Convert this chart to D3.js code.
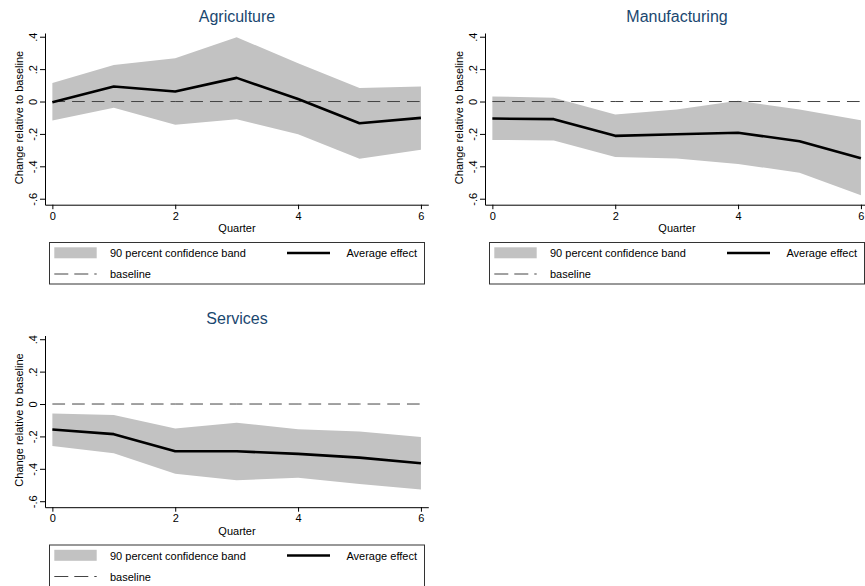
<!DOCTYPE html>
<html>
<head>
<meta charset="utf-8">
<script src="https://cdn.jsdelivr.net/npm/d3@7"></script>
<style>
	body	{ margin: 0; background: #fff; }
	svg	{ display: block; font-family: "Liberation Sans", Arial, sans-serif; }
</style>
</head>
<body>
<svg id="chart" width="865" height="586"></svg>
<script>
// data
const quarters		= [0, 1, 2, 3, 4, 5, 6]
const sectors		= ['Agriculture', 'Manufacturing', 'Services']
const baseline		= [0, 0, 0, 0, 0, 0, 0]

const agriEffect		= [-0.004, 0.093, 0.062, 0.146, 0.016, -0.134, -0.101]
const agriUpper		= [0.115, 0.226, 0.267, 0.397, 0.237, 0.084, 0.093]
const agriLower		= [-0.117, -0.039, -0.144, -0.109, -0.202, -0.354, -0.298]

const manuEffect		= [-0.105, -0.109, -0.212, -0.202, -0.193, -0.245, -0.350]
const manuUpper		= [0.031, 0.023, -0.080, -0.050, 0.004, -0.050, -0.115]
const manuLower		= [-0.237, -0.241, -0.342, -0.352, -0.385, -0.440, -0.578]

const servEffect		= [-0.157, -0.186, -0.292, -0.292, -0.308, -0.331, -0.366]
const servUpper		= [-0.058, -0.068, -0.151, -0.116, -0.155, -0.170, -0.203]
const servLower		= [-0.259, -0.304, -0.430, -0.470, -0.455, -0.493, -0.528]

const xTicks		= [0, 2, 4, 6]
const yTicks		= [0.4, 0.2, 0, -0.2, -0.4, -0.6]
const xTitle		= 'Quarter'
const yTitle		= 'Change relative to baseline'
const legendLabels		= ['90 percent confidence band', 'Average effect', 'baseline']

const series		= [
	{effect: agriEffect, upper: agriUpper, lower: agriLower},
	{effect: manuEffect, upper: manuUpper, lower: manuLower},
	{effect: servEffect, upper: servUpper, lower: servLower},
]
const offsets		= [[0, 0], [440, 0], [0, 302.5]]

const bandColor		= '#c2c2c2'
const titleColor		= '#1a476f'
const dashColor		= '#444'

const svg		= d3.select('#chart')

const x		= d3.scaleLinear().domain([-0.12, 6.12]).range([45, 428.3])
const y		= d3.scaleLinear().domain([-0.637, 0.423]).range([204.7, 33])

const tickLabel		= v => v === 0 ? '0' : String(v).replace('0.', '.')

sectors.forEach((name, i) => {
	const s		= series[i]
	const rows		= quarters.map((q, j) => ({q, effect: s.effect[j], upper: s.upper[j], lower: s.lower[j], base: baseline[j]}))
	const g		= svg.append('g')
		.attr('transform', `translate(${offsets[i][0]},${offsets[i][1]})`)

	g.append('path')
		.datum(rows)
		.attr('fill', bandColor)
		.attr('d', d3.area()
			.x(d => x(d.q))
			.y0(d => y(d.lower))
			.y1(d => y(d.upper)))

	g.append('path')
		.datum(rows)
		.attr('fill', 'none')
		.attr('stroke', dashColor)
		.attr('stroke-width', 1)
		.attr('stroke-dasharray', '12.7,7')
		.attr('d', d3.line().x(d => x(d.q)).y(d => y(d.base)))

	g.append('path')
		.datum(rows)
		.attr('fill', 'none')
		.attr('stroke', '#000')
		.attr('stroke-width', 2.6)
		.attr('stroke-linejoin', 'round')
		.attr('d', d3.line().x(d => x(d.q)).y(d => y(d.effect)))

	//axes
	const xAxis		= g.append('g')
		.attr('transform', `translate(0,${y.range()[0]})`)
		.call(d3.axisBottom(x).tickValues(xTicks).tickFormat(d3.format('d')).tickSize(4.5).tickPadding(3).tickSizeOuter(0))
	const yAxis		= g.append('g')
		.attr('transform', `translate(${x.range()[0]},0)`)
		.call(d3.axisLeft(y).tickValues(yTicks).tickFormat(tickLabel).tickSize(5).tickSizeOuter(0))
	yAxis.selectAll('.tick text')
		.attr('x', 0)
		.attr('dy', 0)
		.attr('text-anchor', 'middle')
		.attr('transform', 'translate(-8.5,0) rotate(-90)')
	for(const ax of [xAxis, yAxis]){
		ax.selectAll('text').attr('font-size', 11).attr('fill', '#000').attr('font-family', null)
		ax.selectAll('line, path').attr('stroke', '#000')
	}

	g.append('text')
		.attr('x', 237)
		.attr('y', 232)
		.attr('text-anchor', 'middle')
		.attr('font-size', 11)
		.text(xTitle)
	g.append('text')
		.attr('transform', 'translate(23,117.5) rotate(-90)')
		.attr('text-anchor', 'middle')
		.attr('font-size', 11)
		.text(yTitle)
	g.append('text')
		.attr('x', 237)
		.attr('y', 21.5)
		.attr('text-anchor', 'middle')
		.attr('font-size', 16)
		.attr('fill', titleColor)
		.text(name)

	//legend
	const lg		= g.append('g')
	lg.append('rect')
		.attr('x', 49.5).attr('y', 242.5)
		.attr('width', 375).attr('height', 41.5)
		.attr('fill', '#fff')
		.attr('stroke', '#333')
		.attr('stroke-width', 1)
	lg.append('rect')
		.attr('x', 54.3).attr('y', 247.3)
		.attr('width', 42.4).attr('height', 11)
		.attr('fill', bandColor)
	lg.append('text')
		.attr('x', 110).attr('y', 257)
		.attr('font-size', 11)
		.text(legendLabels[0])
	lg.append('line')
		.attr('x1', 287).attr('x2', 330)
		.attr('y1', 253).attr('y2', 253)
		.attr('stroke', '#000')
		.attr('stroke-width', 2.6)
	lg.append('text')
		.attr('x', 417).attr('y', 257)
		.attr('text-anchor', 'end')
		.attr('font-size', 11)
		.text(legendLabels[1])
	lg.append('line')
		.attr('x1', 54.3).attr('x2', 96.7)
		.attr('y1', 274).attr('y2', 274)
		.attr('stroke', dashColor)
		.attr('stroke-width', 1)
		.attr('stroke-dasharray', '14,6')
	lg.append('text')
		.attr('x', 110).attr('y', 278)
		.attr('font-size', 11)
		.text(legendLabels[2])
})
</script>
</body>
</html>
